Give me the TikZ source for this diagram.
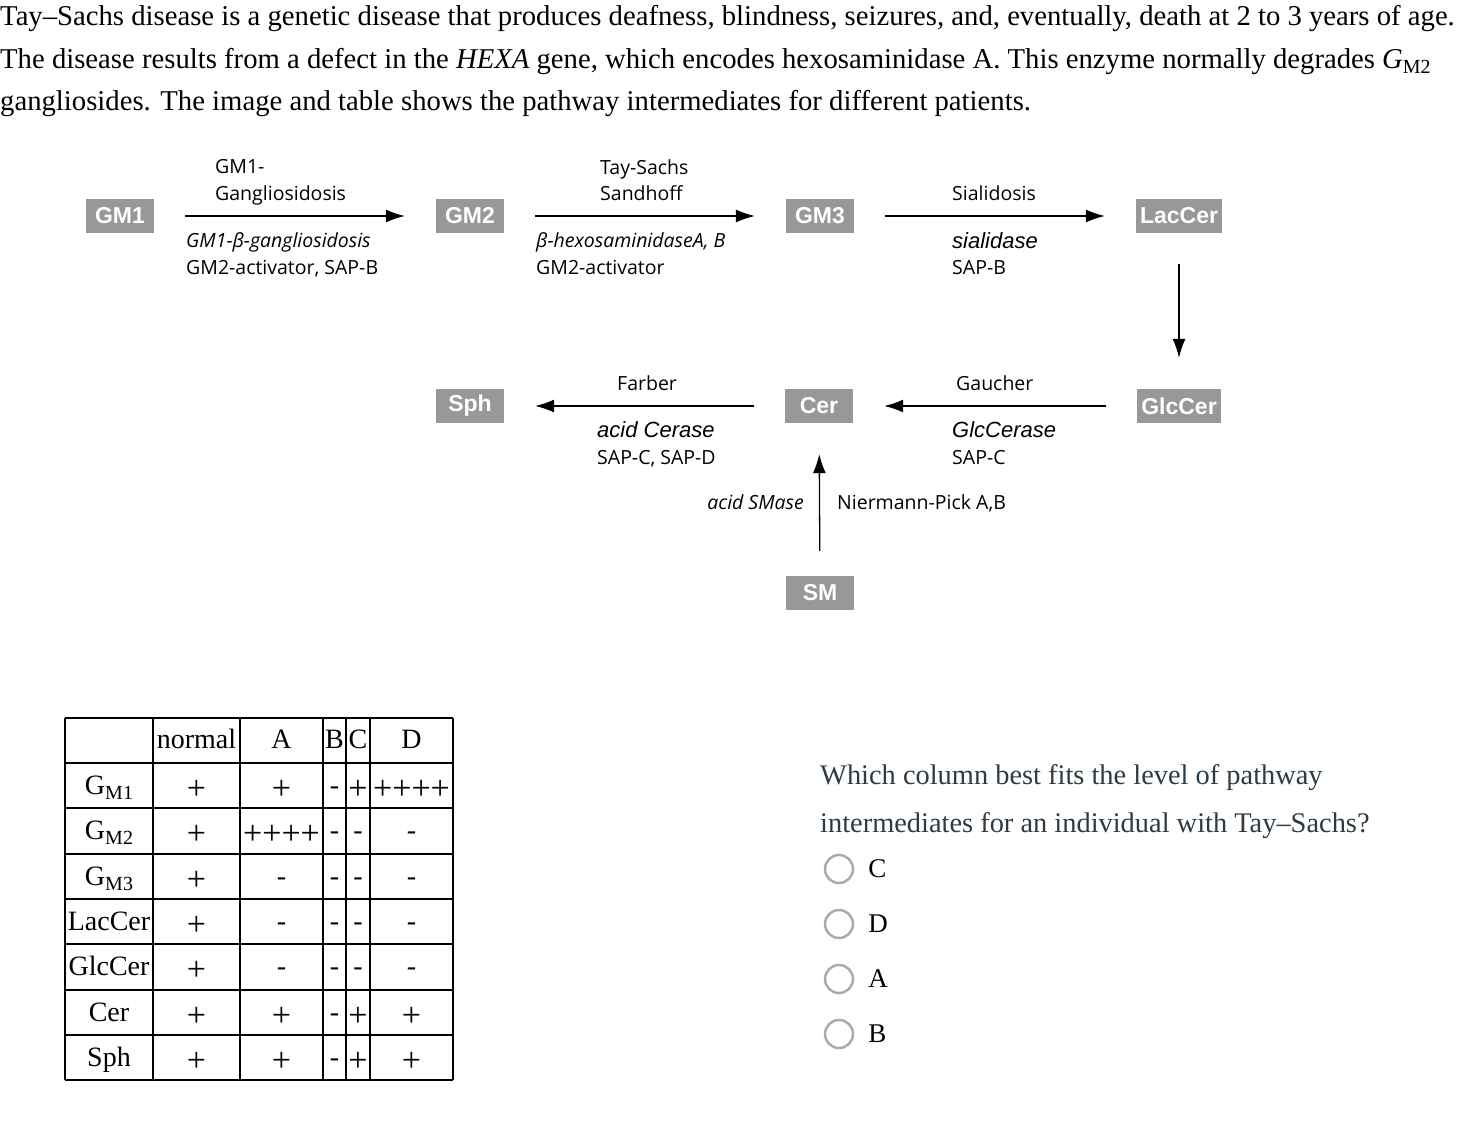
\documentclass[tikz,border=0pt]{standalone}
\usepackage{fontspec}
\setmainfont{Liberation Serif}
\newfontfamily\labelfont{Open Sans}
\newfontfamily\boxfont{Liberation Sans}
\usetikzlibrary{arrows.meta,positioning}

\definecolor{boxgray}{RGB}{152,152,152}
\definecolor{radiogray}{RGB}{170,170,170}
\definecolor{qtext}{RGB}{45,59,69}

\newcommand{\msub}[1]{\raisebox{-5pt}{\fontsize{20}{20}\selectfont #1}}
\newcommand{\enzit}[1]{{\boxfont\itshape\fontsize{22}{26.5}\selectfont #1}}

\begin{document}
\begin{tikzpicture}[x=1pt,y=-1pt]
\tikzstyle{compound} = [rectangle, fill=boxgray, text=white, font=\boxfont\bfseries\fontsize{23}{23}\selectfont, minimum width=68pt, minimum height=34pt, inner xsep=4pt]
\tikzstyle{lbl}      = [anchor=west, align=left, inner sep=0pt, font=\labelfont\fontsize{19.5}{26.5}\selectfont, execute at begin node=\strut, execute at end node=\strut]
\tikzstyle{arrow}    = [line width=1.3pt, -{Latex[length=19pt,width=13pt]}, shorten <=31pt, shorten >=31pt]
\tikzstyle{para}     = [anchor=west, inner sep=0pt, font=\fontsize{28.7}{28.7}\selectfont]
\tikzstyle{ask}      = [anchor=west, inner sep=0pt, text=qtext, font=\fontsize{28.4}{28.4}\selectfont]
\tikzstyle{cell}     = [inner sep=0pt, text height=24pt, text depth=7pt, font=\fontsize{28}{28}\selectfont]
\tikzstyle{tabline}  = [line width=1.2pt]
\tikzstyle{radio}    = [draw=radiogray, line width=2.5pt, circle, minimum size=28pt, inner sep=0pt]

\newcommand{\pl}[1]{\raisebox{-5pt}{\fontsize{34}{34}\selectfont #1}}

\useasboundingbox (0,0) rectangle (1474,1126);

% question text
\node (par1) [para] at (0,18)  {Tay--Sachs disease is a genetic disease that produces deafness, blindness, seizures, and, eventually, death at 2 to 3 years of age.};
\node (par2) [para] at (0,61)  {The disease results from a defect in the \textit{HEXA} gene, which encodes hexosaminidase A. This enzyme normally degrades \textit{G}\msub{M2}};
\node (par3) [para] at (0,103) {gangliosides. The image and table shows the pathway intermediates for different patients.};

% pathway
\node (gm1)    [compound] at (120,216)  {GM1};
\node (gm2)    [compound] at (470,216)  {GM2};
\node (gm3)    [compound] at (820,216)  {GM3};
\node (laccer) [compound] at (1179,216) {LacCer};
\node (glccer) [compound] at (1179,406) {GlcCer};
\node (cer)    [compound] at (819,406)  {Cer};
\node (sph)    [compound] at (470,406)  {Sph};
\node (sm)     [compound] at (820,593)  {SM};

\draw [arrow] (gm1)    -- (gm2);
\draw [arrow] (gm2)    -- (gm3);
\draw [arrow] (gm3)    -- (laccer);
\draw [arrow] (laccer) -- (glccer);
\draw [arrow] (glccer) -- (cer);
\draw [arrow] (cer)    -- (sph);
\draw [arrow, shorten <=25pt] (sm) -- (cer);

\node (dis12) [lbl] at (215,184)   {GM1-\\Gangliosidosis};
\node (enz12) [lbl] at (186,257.5) {\textit{GM1-β-gangliosidosis}\\GM2-activator, SAP-B};
\node (dis23) [lbl] at (600,184)   {Tay-Sachs\\Sandhoff};
\node (enz23) [lbl] at (536,257.5) {\textit{β-hexosaminidaseA, B}\\GM2-activator};
\node (dis3l) [lbl] at (952,195)   {Sialidosis};
\node (enz3l) [lbl] at (952,257.5) {\enzit{sialidase}\\SAP-B};
\node (disgc) [lbl] at (956,385)   {Gaucher};
\node (enzgc) [lbl] at (952,447)   {\enzit{GlcCerase}\\SAP-C};
\node (discs) [lbl] at (617,385)   {Farber};
\node (enzcs) [lbl] at (597,447)   {\enzit{acid Cerase}\\SAP-C, SAP-D};
\node (enzsm) [lbl, anchor=east] at (804,504) {\textit{acid SMase}};
\node (dissm) [lbl] at (837,504)   {Niermann-Pick A,B};

% table
\foreach \x in {65,153,240,323,346,370,453}
  \draw [tabline] (\x,718) -- (\x,1080);
\foreach \y in {718,763,808,854,899,944,990,1035,1080}
  \draw [tabline] (65,\y) -- (453,\y);

\node (hnorm) [cell] at (196.5,740) {normal};
\node (hA)    [cell] at (281.5,740) {A};
\node (hB)    [cell] at (334.5,740) {B};
\node (hC)    [cell] at (358,740)   {C};
\node (hD)    [cell] at (411.5,740) {D};

\foreach \y/\lab/\n/\a/\b/\c/\d [count=\r] in {
    785.5/{G\msub{M1}}/\pl{+}/\pl{+}/-/\pl{+}/\pl{++++},
    831/{G\msub{M2}}/\pl{+}/\pl{++++}/-/-/-,
    876.5/{G\msub{M3}}/\pl{+}/-/-/-/-,
    921.5/LacCer/\pl{+}/-/-/-/-,
    967/GlcCer/\pl{+}/-/-/-/-,
    1012.5/Cer/\pl{+}/\pl{+}/-/\pl{+}/\pl{+},
    1057.5/Sph/\pl{+}/\pl{+}/-/\pl{+}/\pl{+}} {
  \node (row\r)   [cell] at (109,\y)   {\lab};
  \node (norm\r)  [cell] at (196.5,\y) {\n};
  \node (colA\r)  [cell] at (281.5,\y) {\a};
  \node (colB\r)  [cell] at (334.5,\y) {\b};
  \node (colC\r)  [cell] at (358,\y)   {\c};
  \node (colD\r)  [cell] at (411.5,\y) {\d};
}

% multiple choice
\node (ask1) [ask] at (820,778) {Which column best fits the level of pathway};
\node (ask2) [ask] at (820,826) {intermediates for an individual with Tay--Sachs?};

\foreach \y/\opt [count=\i] in {869/C,924/D,979/A,1034/B} {
  \node (rad\i) [radio] at (839,\y) {};
  \node (opt\i) [ask, text=black, right=14pt of rad\i, font=\fontsize{27}{27}\selectfont] {\opt};
}
\end{tikzpicture}
\end{document}
